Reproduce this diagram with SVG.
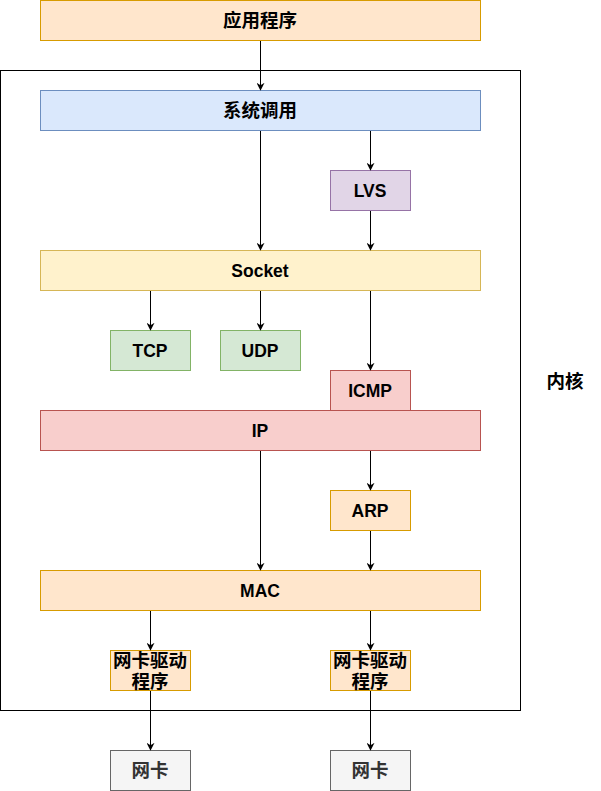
<svg xmlns="http://www.w3.org/2000/svg" width="601" height="791" viewBox="0 0 601 791">
<style>
text{font-family:"Liberation Sans","Noto Sans CJK SC",sans-serif;font-weight:bold;font-size:17.5px;text-anchor:middle;fill:#000}
text.cjk{font-size:18.5px}
.orange{fill:#ffe6cc;stroke:#d79b00}
.blue{fill:#dae8fc;stroke:#6c8ebf}
.purple{fill:#e1d5e7;stroke:#9673a6}
.yellow{fill:#fff2cc;stroke:#d6b656}
.green{fill:#d5e8d4;stroke:#82b366}
.red{fill:#f8cecc;stroke:#b85450}
.gray{fill:#f5f5f5;stroke:#666666}
text.gt{fill:#333333}
#edges path{stroke:#000;stroke-width:1;fill:none;marker-end:url(#arr)}
</style>
<defs>
<marker id="arr" viewBox="0 0 10 10" refX="9" refY="5" markerWidth="8" markerHeight="8" markerUnits="userSpaceOnUse" orient="auto">
<path d="M0,0 L10,5 L0,10 L3,5 Z" fill="#000" stroke="none"/>
</marker>
</defs>
<rect width="601" height="791" fill="#fff"/>
<g id="kernel">
<rect x="0.5" y="70.5" width="520" height="640" fill="none" stroke="#000"/>
<text class="cjk" x="565" y="388">内核</text>
</g>
<g id="app"><rect class="orange" x="40.5" y="0.5" width="440" height="40"/><text class="cjk" x="260" y="27">应用程序</text></g>
<g id="syscall"><rect class="blue" x="40.5" y="90.5" width="440" height="40"/><text class="cjk" x="260" y="117">系统调用</text></g>
<g id="lvs"><rect class="purple" x="330.5" y="170.5" width="80" height="40"/><text x="370" y="196.5">LVS</text></g>
<g id="socket"><rect class="yellow" x="40.5" y="250.5" width="440" height="40"/><text x="260" y="276.5">Socket</text></g>
<g id="tcp"><rect class="green" x="110.5" y="330.5" width="80" height="40"/><text x="150" y="356.5">TCP</text></g>
<g id="udp"><rect class="green" x="220.5" y="330.5" width="80" height="40"/><text x="260" y="356.5">UDP</text></g>
<g id="icmp"><rect class="red" x="330.5" y="370.5" width="80" height="40"/><text x="370" y="396.5">ICMP</text></g>
<g id="ip"><rect class="red" x="40.5" y="410.5" width="440" height="40"/><text x="260" y="436.5">IP</text></g>
<g id="arp"><rect class="orange" x="330.5" y="490.5" width="80" height="40"/><text x="370" y="516.5">ARP</text></g>
<g id="mac"><rect class="orange" x="40.5" y="570.5" width="440" height="40"/><text x="260" y="596.5">MAC</text></g>
<g id="driver1"><rect class="orange" x="110.5" y="650.5" width="80" height="40"/><text class="cjk" x="150" y="667">网卡驱动</text><text class="cjk" x="150" y="688">程序</text></g>
<g id="driver2"><rect class="orange" x="330.5" y="650.5" width="80" height="40"/><text class="cjk" x="370" y="667">网卡驱动</text><text class="cjk" x="370" y="688">程序</text></g>
<g id="nic1"><rect class="gray" x="110.5" y="750.5" width="80" height="40"/><text class="cjk gt" x="150" y="777">网卡</text></g>
<g id="nic2"><rect class="gray" x="330.5" y="750.5" width="80" height="40"/><text class="cjk gt" x="370" y="777">网卡</text></g>
<g id="edges">
<path d="M260.5,41 V90"/>
<path d="M260.5,131 V250"/>
<path d="M370.5,131 V170"/>
<path d="M370.5,211 V250"/>
<path d="M150.5,291 V330"/>
<path d="M260.5,291 V330"/>
<path d="M370.5,291 V370"/>
<path d="M260.5,451 V570"/>
<path d="M370.5,451 V490"/>
<path d="M370.5,531 V570"/>
<path d="M150.5,611 V650"/>
<path d="M370.5,611 V650"/>
<path d="M150.5,691 V750"/>
<path d="M370.5,691 V750"/>
</g>
</svg>
